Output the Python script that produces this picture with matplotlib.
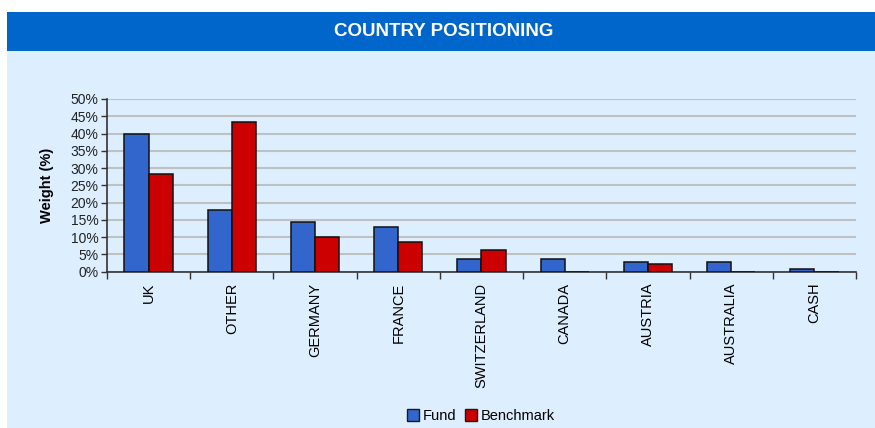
import matplotlib
matplotlib.use('Agg')
import matplotlib.pyplot as plt
import numpy as np
from matplotlib.patches import Rectangle
from matplotlib.lines import Line2D

plt.rcParams['font.family'] = ['Liberation Sans', 'DejaVu Sans']

# data
countries = ['UK', 'OTHER', 'GERMANY', 'FRANCE', 'SWITZERLAND', 'CANADA',
             'AUSTRIA', 'AUSTRALIA', 'CASH']
fund = [40.0, 18.0, 14.4, 12.9, 3.8, 3.8, 2.7, 2.7, 0.9]
benchmark = [28.4, 43.3, 10.0, 8.5, 6.4, 0.0, 2.2, 0.0, 0.0]
yticks = [0, 5, 10, 15, 20, 25, 30, 35, 40, 45, 50]

fund_col = '#3366CC'
bench_col = '#CC0000'
bg = '#DDEEFF'

W, H = 875, 428
fig = plt.figure(figsize=(W / 100, H / 100), dpi=100)
fig.patch.set_facecolor('white')

# background panel and header band
fig.add_artist(Rectangle((7 / W, 0), 1 - 7 / W, 1 - 51 / H,
                         transform=fig.transFigure, facecolor=bg,
                         edgecolor='none', zorder=0))
fig.add_artist(Rectangle((7 / W, 1 - 51 / H), 1 - 7 / W, 39 / H,
                         transform=fig.transFigure, facecolor='#0066CC',
                         edgecolor='none', zorder=0))
fig.text(444 / W, 1 - 31.5 / H, 'COUNTRY POSITIONING', color='white',
         fontsize=13.5, fontweight='bold', ha='center', va='center')

ax = fig.add_axes([107 / W, 1 - 271.7 / H, (856 - 107) / W, (271.7 - 99) / H])
ax.set_facecolor('none')

x = np.arange(len(countries))
w = 0.29
ax.bar(x - w / 2, fund, w, color=fund_col, edgecolor='#111111', linewidth=1.1, zorder=3)
ax.bar(x + w / 2, benchmark, w, color=bench_col, edgecolor='#111111', linewidth=1.1, zorder=3)

ax.set_xlim(-0.5, len(countries) - 0.5)
ax.set_ylim(0, 50)
ax.set_yticks(yticks)
ax.set_yticklabels(['%d%%' % t for t in yticks], fontsize=10, color='#222222')
ax.yaxis.grid(True, color='#C0C0C0', linewidth=1.5, zorder=0)
ax.tick_params(axis='y', length=4, width=1, color='#333333', pad=2)

# category labels in between boundary ticks
ax.set_xticks(np.arange(len(countries) + 1) - 0.5)
ax.set_xticklabels([])
ax.set_xticks(x, minor=True)
ax.set_xticklabels(countries, minor=True, rotation=90, fontsize=10.5,
                   va='top', ha='center')
ax.tick_params(axis='x', which='major', direction='out', length=5, width=1, color='#333333')
ax.tick_params(axis='x', which='minor', length=0, pad=8)

for s in ['top', 'right']:
    ax.spines[s].set_visible(False)
for s in ['left', 'bottom']:
    ax.spines[s].set_color('#333333')
    ax.spines[s].set_linewidth(1.2)

ax.set_ylabel('Weight (%)', fontsize=10.5, fontweight='bold', labelpad=12)

handles = [Line2D([], [], marker='s', linestyle='none', markersize=8,
                  markerfacecolor=fund_col, markeredgecolor='#1a1a1a'),
           Line2D([], [], marker='s', linestyle='none', markersize=8,
                  markerfacecolor=bench_col, markeredgecolor='#1a1a1a')]
fig.legend(handles, ['Fund', 'Benchmark'], loc='center',
           bbox_to_anchor=(481 / W, 1 - 416 / H), ncol=2, frameon=False,
           fontsize=10.5, handlelength=0.8, handletextpad=0.3, columnspacing=0.6)

fig.savefig('out.png', dpi=100, facecolor=fig.get_facecolor())
